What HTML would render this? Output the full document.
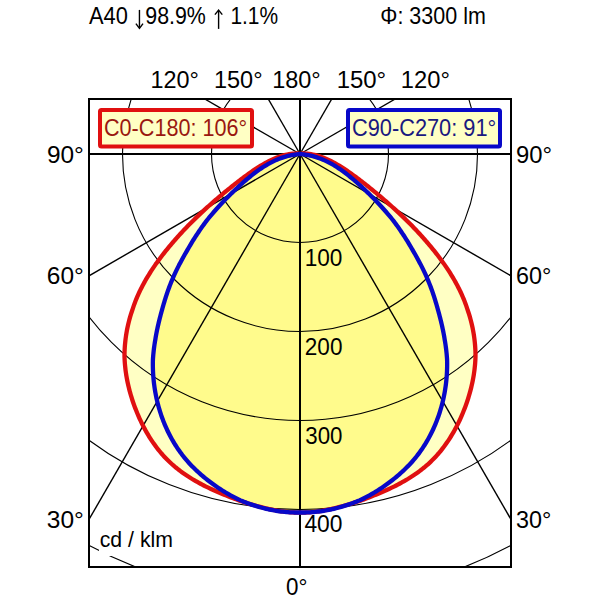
<!DOCTYPE html>
<html><head><meta charset="utf-8"><style>
html,body{margin:0;padding:0;background:#fff;}
svg{display:block;}
text{font-family:"Liberation Sans",sans-serif;}
</style></head><body>
<svg width="600" height="600" viewBox="0 0 600 600">
<defs><clipPath id="fr"><rect x="89" y="99" width="422" height="468"/></clipPath></defs>
<rect x="0" y="0" width="600" height="600" fill="#fff"/>
<path d="M300.00,154.00 L298.09,153.46 L296.24,153.48 L294.40,153.57 L292.58,153.72 L290.78,153.93 L288.99,154.20 L287.22,154.53 L285.47,154.91 L283.73,155.34 L282.01,155.82 L280.30,156.35 L278.61,156.93 L276.93,157.55 L275.27,158.21 L273.61,158.91 L271.97,159.65 L270.34,160.42 L268.73,161.22 L267.12,162.06 L265.53,162.92 L263.94,163.81 L262.37,164.73 L260.80,165.66 L259.24,166.62 L257.70,167.60 L256.16,168.59 L254.63,169.61 L253.11,170.64 L251.59,171.68 L250.08,172.74 L248.58,173.81 L247.09,174.89 L245.60,175.98 L244.12,177.07 L242.64,178.18 L241.17,179.29 L239.71,180.41 L238.25,181.53 L236.79,182.65 L235.34,183.78 L233.90,184.91 L232.46,186.05 L231.02,187.19 L229.59,188.33 L228.17,189.48 L226.75,190.63 L225.33,191.79 L223.92,192.95 L222.51,194.11 L221.11,195.28 L219.72,196.45 L218.33,197.63 L216.94,198.81 L215.56,200.00 L214.19,201.19 L212.81,202.39 L211.45,203.59 L210.09,204.79 L208.73,206.00 L207.38,207.22 L206.04,208.44 L204.70,209.67 L203.36,210.90 L202.03,212.13 L200.70,213.38 L199.38,214.62 L198.07,215.88 L196.76,217.13 L195.45,218.40 L194.15,219.67 L192.86,220.94 L191.57,222.22 L190.28,223.51 L189.00,224.80 L187.73,226.10 L186.46,227.40 L185.20,228.71 L183.94,230.03 L182.70,231.36 L181.46,232.70 L180.23,234.05 L179.01,235.40 L177.79,236.76 L176.57,238.13 L175.36,239.50 L174.16,240.88 L172.96,242.26 L171.77,243.66 L170.59,245.05 L169.41,246.46 L168.24,247.87 L167.08,249.29 L165.93,250.72 L164.78,252.15 L163.65,253.59 L162.52,255.04 L161.41,256.49 L160.30,257.95 L159.21,259.42 L158.13,260.89 L157.06,262.38 L156.00,263.87 L154.95,265.37 L153.92,266.87 L152.90,268.39 L151.89,269.91 L150.90,271.44 L149.92,272.97 L148.95,274.52 L148.00,276.07 L147.07,277.63 L146.15,279.20 L145.25,280.77 L144.36,282.35 L143.49,283.94 L142.64,285.54 L141.80,287.15 L140.98,288.76 L140.18,290.39 L139.40,292.02 L138.64,293.66 L137.90,295.31 L137.18,296.96 L136.48,298.63 L135.80,300.31 L135.14,301.99 L134.50,303.68 L133.89,305.38 L133.30,307.09 L132.73,308.81 L132.17,310.53 L131.59,312.25 L131.04,313.97 L130.50,315.71 L129.99,317.45 L129.50,319.19 L129.03,320.95 L128.59,322.70 L128.17,324.47 L127.77,326.24 L127.39,328.02 L127.03,329.80 L126.70,331.59 L126.40,333.38 L126.11,335.17 L125.85,336.97 L125.61,338.78 L125.40,340.58 L125.20,342.39 L125.02,344.20 L124.87,346.01 L124.75,347.83 L124.65,349.65 L124.57,351.47 L124.52,353.29 L124.49,355.11 L124.52,356.93 L124.58,358.75 L124.68,360.57 L124.79,362.39 L124.93,364.21 L125.10,366.02 L125.29,367.84 L125.50,369.65 L125.73,371.46 L125.99,373.27 L126.26,375.07 L126.56,376.88 L126.88,378.68 L127.23,380.47 L127.59,382.27 L127.98,384.06 L128.38,385.84 L128.81,387.62 L129.26,389.40 L129.72,391.17 L130.21,392.94 L130.71,394.71 L131.24,396.47 L131.78,398.22 L132.34,399.97 L132.92,401.71 L133.52,403.45 L134.14,405.18 L134.77,406.90 L135.42,408.62 L136.09,410.33 L136.77,412.04 L137.48,413.73 L138.19,415.42 L138.93,417.11 L139.68,418.78 L140.45,420.45 L141.24,422.10 L142.04,423.75 L142.86,425.38 L143.70,427.01 L144.56,428.62 L145.43,430.23 L146.33,431.82 L147.24,433.40 L148.17,434.96 L149.11,436.52 L150.08,438.06 L151.06,439.59 L152.06,441.10 L153.09,442.60 L154.13,444.08 L155.18,445.55 L156.26,447.00 L157.36,448.44 L158.47,449.86 L159.61,451.26 L160.76,452.65 L161.94,454.01 L163.13,455.36 L164.34,456.69 L165.58,458.00 L166.83,459.30 L168.10,460.57 L169.40,461.82 L170.71,463.05 L172.04,464.26 L173.40,465.45 L174.77,466.62 L176.17,467.76 L177.58,468.89 L179.01,470.00 L180.45,471.10 L181.90,472.18 L183.38,473.24 L184.87,474.28 L186.37,475.30 L187.90,476.31 L189.43,477.30 L190.98,478.27 L192.54,479.23 L194.12,480.16 L195.71,481.09 L197.31,481.99 L198.92,482.89 L200.55,483.76 L202.18,484.63 L203.82,485.47 L205.47,486.31 L207.13,487.13 L208.80,487.93 L210.48,488.73 L212.16,489.51 L213.85,490.28 L215.54,491.04 L217.24,491.79 L218.94,492.52 L220.65,493.25 L222.36,493.96 L224.08,494.67 L225.79,495.37 L227.51,496.05 L229.23,496.73 L230.95,497.40 L232.67,498.06 L234.39,498.71 L236.10,499.36 L237.82,500.00 L239.54,500.62 L241.27,501.20 L243.00,501.78 L244.73,502.35 L246.46,502.90 L248.19,503.45 L249.92,503.99 L251.65,504.51 L253.38,505.03 L255.12,505.53 L256.85,506.01 L258.59,506.49 L260.33,506.95 L262.08,507.39 L263.82,507.82 L265.57,508.24 L267.32,508.66 L269.08,509.06 L270.84,509.44 L272.60,509.81 L274.37,510.15 L276.15,510.47 L277.93,510.78 L279.72,511.06 L281.52,511.32 L283.33,511.56 L285.14,511.77 L286.96,511.96 L288.79,512.13 L290.63,512.28 L292.47,512.39 L294.33,512.49 L296.20,512.55 L298.07,512.60 L300.00,512.50 L301.93,512.60 L303.80,512.55 L305.67,512.49 L307.53,512.39 L309.37,512.28 L311.21,512.13 L313.04,511.96 L314.86,511.77 L316.67,511.56 L318.48,511.32 L320.28,511.06 L322.07,510.78 L323.85,510.47 L325.63,510.15 L327.40,509.81 L329.16,509.44 L330.92,509.06 L332.68,508.66 L334.43,508.24 L336.18,507.82 L337.92,507.39 L339.67,506.95 L341.41,506.49 L343.15,506.01 L344.88,505.53 L346.62,505.03 L348.35,504.51 L350.08,503.99 L351.81,503.45 L353.54,502.90 L355.27,502.35 L357.00,501.78 L358.73,501.20 L360.46,500.62 L362.18,500.00 L363.90,499.36 L365.61,498.71 L367.33,498.06 L369.05,497.40 L370.77,496.73 L372.49,496.05 L374.21,495.37 L375.92,494.67 L377.64,493.96 L379.35,493.25 L381.06,492.52 L382.76,491.79 L384.46,491.04 L386.15,490.28 L387.84,489.51 L389.52,488.73 L391.20,487.93 L392.87,487.13 L394.53,486.31 L396.18,485.47 L397.82,484.63 L399.45,483.76 L401.08,482.89 L402.69,481.99 L404.29,481.09 L405.88,480.16 L407.46,479.23 L409.02,478.27 L410.57,477.30 L412.10,476.31 L413.63,475.30 L415.13,474.28 L416.62,473.24 L418.10,472.18 L419.55,471.10 L420.99,470.00 L422.42,468.89 L423.83,467.76 L425.23,466.62 L426.60,465.45 L427.96,464.26 L429.29,463.05 L430.60,461.82 L431.90,460.57 L433.17,459.30 L434.42,458.00 L435.66,456.69 L436.87,455.36 L438.06,454.01 L439.24,452.65 L440.39,451.26 L441.53,449.86 L442.64,448.44 L443.74,447.00 L444.82,445.55 L445.87,444.08 L446.91,442.60 L447.94,441.10 L448.94,439.59 L449.92,438.06 L450.89,436.52 L451.83,434.96 L452.76,433.40 L453.67,431.82 L454.57,430.23 L455.44,428.62 L456.30,427.01 L457.14,425.38 L457.96,423.75 L458.76,422.10 L459.55,420.45 L460.32,418.78 L461.07,417.11 L461.81,415.42 L462.52,413.73 L463.23,412.04 L463.91,410.33 L464.58,408.62 L465.23,406.90 L465.86,405.18 L466.48,403.45 L467.08,401.71 L467.66,399.97 L468.22,398.22 L468.76,396.47 L469.29,394.71 L469.79,392.94 L470.28,391.17 L470.74,389.40 L471.19,387.62 L471.62,385.84 L472.02,384.06 L472.41,382.27 L472.77,380.47 L473.12,378.68 L473.44,376.88 L473.74,375.07 L474.01,373.27 L474.27,371.46 L474.50,369.65 L474.71,367.84 L474.90,366.02 L475.07,364.21 L475.21,362.39 L475.32,360.57 L475.42,358.75 L475.48,356.93 L475.51,355.11 L475.48,353.29 L475.43,351.47 L475.35,349.65 L475.25,347.83 L475.13,346.01 L474.98,344.20 L474.80,342.39 L474.60,340.58 L474.39,338.78 L474.15,336.97 L473.89,335.17 L473.60,333.38 L473.30,331.59 L472.97,329.80 L472.61,328.02 L472.23,326.24 L471.83,324.47 L471.41,322.70 L470.97,320.95 L470.50,319.19 L470.01,317.45 L469.50,315.71 L468.96,313.97 L468.41,312.25 L467.83,310.53 L467.27,308.81 L466.70,307.09 L466.11,305.38 L465.50,303.68 L464.86,301.99 L464.20,300.31 L463.52,298.63 L462.82,296.96 L462.10,295.31 L461.36,293.66 L460.60,292.02 L459.82,290.39 L459.02,288.76 L458.20,287.15 L457.36,285.54 L456.51,283.94 L455.64,282.35 L454.75,280.77 L453.85,279.20 L452.93,277.63 L452.00,276.07 L451.05,274.52 L450.08,272.97 L449.10,271.44 L448.11,269.91 L447.10,268.39 L446.08,266.87 L445.05,265.37 L444.00,263.87 L442.94,262.38 L441.87,260.89 L440.79,259.42 L439.70,257.95 L438.59,256.49 L437.48,255.04 L436.35,253.59 L435.22,252.15 L434.07,250.72 L432.92,249.29 L431.76,247.87 L430.59,246.46 L429.41,245.05 L428.23,243.66 L427.04,242.26 L425.84,240.88 L424.64,239.50 L423.43,238.13 L422.21,236.76 L420.99,235.40 L419.77,234.05 L418.54,232.70 L417.30,231.36 L416.06,230.03 L414.80,228.71 L413.54,227.40 L412.27,226.10 L411.00,224.80 L409.72,223.51 L408.43,222.22 L407.14,220.94 L405.85,219.67 L404.55,218.40 L403.24,217.13 L401.93,215.88 L400.62,214.62 L399.30,213.38 L397.97,212.13 L396.64,210.90 L395.30,209.67 L393.96,208.44 L392.62,207.22 L391.27,206.00 L389.91,204.79 L388.55,203.59 L387.19,202.39 L385.81,201.19 L384.44,200.00 L383.06,198.81 L381.67,197.63 L380.28,196.45 L378.89,195.28 L377.49,194.11 L376.08,192.95 L374.67,191.79 L373.25,190.63 L371.83,189.48 L370.41,188.33 L368.98,187.19 L367.54,186.05 L366.10,184.91 L364.66,183.78 L363.21,182.65 L361.75,181.53 L360.29,180.41 L358.83,179.29 L357.36,178.18 L355.88,177.07 L354.40,175.98 L352.91,174.89 L351.42,173.81 L349.92,172.74 L348.41,171.68 L346.89,170.64 L345.37,169.61 L343.84,168.59 L342.30,167.60 L340.76,166.62 L339.20,165.66 L337.63,164.73 L336.06,163.81 L334.47,162.92 L332.88,162.06 L331.27,161.22 L329.66,160.42 L328.03,159.65 L326.39,158.91 L324.73,158.21 L323.07,157.55 L321.39,156.93 L319.70,156.35 L317.99,155.82 L316.27,155.34 L314.53,154.91 L312.78,154.53 L311.01,154.20 L309.22,153.93 L307.42,153.72 L305.60,153.57 L303.76,153.48 L301.91,153.46 L300.00,154.00 Z" fill="#FFFFC4" stroke="none"/>
<path d="M300.00,154.00 L298.34,154.19 L296.59,154.38 L294.85,154.61 L293.14,154.88 L291.44,155.20 L289.76,155.55 L288.10,155.95 L286.46,156.38 L284.83,156.85 L283.22,157.35 L281.63,157.90 L280.05,158.47 L278.49,159.08 L276.94,159.72 L275.40,160.39 L273.89,161.09 L272.38,161.82 L270.89,162.58 L269.41,163.37 L267.95,164.18 L266.50,165.02 L265.06,165.88 L263.63,166.77 L262.22,167.68 L260.82,168.61 L259.43,169.56 L258.05,170.53 L256.68,171.52 L255.32,172.53 L253.97,173.56 L252.63,174.60 L251.30,175.65 L249.98,176.72 L248.66,177.80 L247.36,178.90 L246.06,180.00 L244.77,181.12 L243.49,182.24 L242.22,183.37 L240.95,184.51 L239.69,185.65 L238.43,186.80 L237.18,187.96 L235.94,189.12 L234.70,190.29 L233.47,191.46 L232.25,192.63 L231.03,193.82 L229.82,195.01 L228.61,196.20 L227.42,197.40 L226.23,198.60 L225.04,199.82 L223.87,201.03 L222.70,202.26 L221.54,203.49 L220.38,204.72 L219.23,205.96 L218.09,207.21 L216.96,208.47 L215.84,209.73 L214.72,211.00 L213.61,212.27 L212.51,213.55 L211.42,214.84 L210.33,216.14 L209.26,217.44 L208.19,218.75 L207.13,220.06 L206.11,221.41 L205.09,222.76 L204.09,224.12 L203.09,225.49 L202.11,226.86 L201.13,228.24 L200.16,229.63 L199.21,231.03 L198.26,232.43 L197.32,233.83 L196.39,235.24 L195.47,236.66 L194.56,238.09 L193.65,239.52 L192.76,240.95 L191.88,242.39 L191.00,243.84 L190.14,245.29 L189.28,246.74 L188.44,248.20 L187.60,249.67 L186.76,251.13 L185.90,252.58 L185.06,254.04 L184.22,255.50 L183.39,256.97 L182.58,258.44 L181.77,259.92 L180.97,261.40 L180.19,262.88 L179.41,264.37 L178.65,265.87 L177.89,267.37 L177.15,268.88 L176.42,270.39 L175.70,271.91 L174.99,273.43 L174.29,274.96 L173.61,276.49 L172.93,278.03 L172.27,279.57 L171.62,281.12 L170.99,282.68 L170.37,284.24 L169.76,285.80 L169.16,287.38 L168.57,288.95 L168.00,290.54 L167.44,292.13 L166.90,293.72 L166.36,295.32 L165.84,296.93 L165.33,298.53 L164.83,300.15 L164.34,301.77 L163.86,303.39 L163.39,305.01 L162.92,306.64 L162.47,308.27 L162.03,309.90 L161.57,311.53 L161.13,313.17 L160.68,314.80 L160.25,316.44 L159.83,318.08 L159.42,319.72 L159.01,321.36 L158.62,323.00 L158.23,324.65 L157.86,326.29 L157.50,327.94 L157.15,329.60 L156.81,331.25 L156.49,332.91 L156.17,334.56 L155.87,336.22 L155.59,337.89 L155.32,339.55 L155.04,341.21 L154.77,342.88 L154.51,344.54 L154.27,346.21 L154.04,347.89 L153.83,349.56 L153.64,351.24 L153.46,352.92 L153.30,354.60 L153.16,356.29 L153.03,357.98 L152.92,359.67 L152.88,361.37 L152.86,363.06 L152.85,364.76 L152.87,366.46 L152.90,368.15 L152.95,369.85 L153.02,371.55 L153.11,373.24 L153.21,374.94 L153.33,376.64 L153.47,378.33 L153.63,380.02 L153.81,381.72 L154.00,383.40 L154.21,385.09 L154.44,386.78 L154.69,388.46 L154.96,390.14 L155.24,391.82 L155.54,393.49 L155.86,395.16 L156.20,396.82 L156.55,398.49 L156.92,400.14 L157.32,401.80 L157.72,403.44 L158.15,405.09 L158.60,406.73 L159.06,408.36 L159.54,409.98 L160.04,411.61 L160.55,413.22 L161.09,414.83 L161.64,416.43 L162.21,418.02 L162.80,419.61 L163.40,421.19 L164.03,422.76 L164.67,424.33 L165.33,425.88 L166.01,427.43 L166.70,428.97 L167.41,430.50 L168.15,432.02 L168.90,433.53 L169.66,435.04 L170.45,436.53 L171.25,438.01 L172.07,439.48 L172.91,440.94 L173.77,442.40 L174.64,443.83 L175.54,445.26 L176.45,446.68 L177.37,448.09 L178.32,449.48 L179.29,450.86 L180.27,452.23 L181.27,453.58 L182.29,454.93 L183.32,456.26 L184.38,457.57 L185.45,458.87 L186.54,460.16 L187.65,461.44 L188.78,462.70 L189.92,463.94 L191.08,465.17 L192.26,466.39 L193.46,467.59 L194.67,468.78 L195.90,469.95 L197.13,471.12 L198.38,472.27 L199.64,473.41 L200.91,474.54 L202.20,475.65 L203.50,476.75 L204.81,477.83 L206.14,478.90 L207.47,479.96 L208.82,481.00 L210.17,482.03 L211.53,483.05 L212.91,484.06 L214.29,485.05 L215.68,486.03 L217.07,486.99 L218.48,487.94 L219.89,488.88 L221.32,489.80 L222.75,490.71 L224.19,491.61 L225.64,492.49 L227.09,493.35 L228.56,494.20 L230.03,495.03 L231.52,495.85 L233.01,496.65 L234.51,497.44 L236.02,498.20 L237.53,498.95 L239.06,499.68 L240.60,500.39 L242.16,501.05 L243.72,501.69 L245.30,502.31 L246.88,502.91 L248.46,503.50 L250.05,504.07 L251.65,504.62 L253.26,505.15 L254.87,505.67 L256.48,506.16 L258.10,506.64 L259.73,507.10 L261.36,507.54 L262.99,507.96 L264.63,508.38 L266.27,508.79 L267.92,509.17 L269.57,509.53 L271.23,509.88 L272.89,510.20 L274.56,510.50 L276.23,510.78 L277.90,511.05 L279.58,511.29 L281.27,511.51 L282.96,511.70 L284.65,511.88 L286.34,512.04 L288.04,512.17 L289.74,512.28 L291.45,512.37 L293.16,512.44 L294.87,512.49 L296.58,512.51 L298.30,512.51 L300.00,512.50 L301.70,512.51 L303.42,512.51 L305.13,512.49 L306.84,512.44 L308.55,512.37 L310.26,512.28 L311.96,512.17 L313.66,512.04 L315.35,511.88 L317.04,511.70 L318.73,511.51 L320.42,511.29 L322.10,511.05 L323.77,510.78 L325.44,510.50 L327.11,510.20 L328.77,509.88 L330.43,509.53 L332.08,509.17 L333.73,508.79 L335.37,508.38 L337.01,507.96 L338.64,507.54 L340.27,507.10 L341.90,506.64 L343.52,506.16 L345.13,505.67 L346.74,505.15 L348.35,504.62 L349.95,504.07 L351.54,503.50 L353.12,502.91 L354.70,502.31 L356.28,501.69 L357.84,501.05 L359.40,500.39 L360.94,499.68 L362.47,498.95 L363.98,498.20 L365.49,497.44 L366.99,496.65 L368.48,495.85 L369.97,495.03 L371.44,494.20 L372.91,493.35 L374.36,492.49 L375.81,491.61 L377.25,490.71 L378.68,489.80 L380.11,488.88 L381.52,487.94 L382.93,486.99 L384.32,486.03 L385.71,485.05 L387.09,484.06 L388.47,483.05 L389.83,482.03 L391.18,481.00 L392.53,479.96 L393.86,478.90 L395.19,477.83 L396.50,476.75 L397.80,475.65 L399.09,474.54 L400.36,473.41 L401.62,472.27 L402.87,471.12 L404.10,469.95 L405.33,468.78 L406.54,467.59 L407.74,466.39 L408.92,465.17 L410.08,463.94 L411.22,462.70 L412.35,461.44 L413.46,460.16 L414.55,458.87 L415.62,457.57 L416.68,456.26 L417.71,454.93 L418.73,453.58 L419.73,452.23 L420.71,450.86 L421.68,449.48 L422.63,448.09 L423.55,446.68 L424.46,445.26 L425.36,443.83 L426.23,442.40 L427.09,440.94 L427.93,439.48 L428.75,438.01 L429.55,436.53 L430.34,435.04 L431.10,433.53 L431.85,432.02 L432.59,430.50 L433.30,428.97 L433.99,427.43 L434.67,425.88 L435.33,424.33 L435.97,422.76 L436.60,421.19 L437.20,419.61 L437.79,418.02 L438.36,416.43 L438.91,414.83 L439.45,413.22 L439.96,411.61 L440.46,409.98 L440.94,408.36 L441.40,406.73 L441.85,405.09 L442.28,403.44 L442.68,401.80 L443.08,400.14 L443.45,398.49 L443.80,396.82 L444.14,395.16 L444.46,393.49 L444.76,391.82 L445.04,390.14 L445.31,388.46 L445.56,386.78 L445.79,385.09 L446.00,383.40 L446.19,381.72 L446.37,380.02 L446.53,378.33 L446.67,376.64 L446.79,374.94 L446.89,373.24 L446.98,371.55 L447.05,369.85 L447.10,368.15 L447.13,366.46 L447.15,364.76 L447.14,363.06 L447.12,361.37 L447.08,359.67 L446.97,357.98 L446.84,356.29 L446.70,354.60 L446.54,352.92 L446.36,351.24 L446.17,349.56 L445.96,347.89 L445.73,346.21 L445.49,344.54 L445.23,342.88 L444.96,341.21 L444.68,339.55 L444.41,337.89 L444.13,336.22 L443.83,334.56 L443.51,332.91 L443.19,331.25 L442.85,329.60 L442.50,327.94 L442.14,326.29 L441.77,324.65 L441.38,323.00 L440.99,321.36 L440.58,319.72 L440.17,318.08 L439.75,316.44 L439.32,314.80 L438.87,313.17 L438.43,311.53 L437.97,309.90 L437.53,308.27 L437.08,306.64 L436.61,305.01 L436.14,303.39 L435.66,301.77 L435.17,300.15 L434.67,298.53 L434.16,296.93 L433.64,295.32 L433.10,293.72 L432.56,292.13 L432.00,290.54 L431.43,288.95 L430.84,287.38 L430.24,285.80 L429.63,284.24 L429.01,282.68 L428.38,281.12 L427.73,279.57 L427.07,278.03 L426.39,276.49 L425.71,274.96 L425.01,273.43 L424.30,271.91 L423.58,270.39 L422.85,268.88 L422.11,267.37 L421.35,265.87 L420.59,264.37 L419.81,262.88 L419.03,261.40 L418.23,259.92 L417.42,258.44 L416.61,256.97 L415.78,255.50 L414.94,254.04 L414.10,252.58 L413.24,251.13 L412.40,249.67 L411.56,248.20 L410.72,246.74 L409.86,245.29 L409.00,243.84 L408.12,242.39 L407.24,240.95 L406.35,239.52 L405.44,238.09 L404.53,236.66 L403.61,235.24 L402.68,233.83 L401.74,232.43 L400.79,231.03 L399.84,229.63 L398.87,228.24 L397.89,226.86 L396.91,225.49 L395.91,224.12 L394.91,222.76 L393.89,221.41 L392.87,220.06 L391.81,218.75 L390.74,217.44 L389.67,216.14 L388.58,214.84 L387.49,213.55 L386.39,212.27 L385.28,211.00 L384.16,209.73 L383.04,208.47 L381.91,207.21 L380.77,205.96 L379.62,204.72 L378.46,203.49 L377.30,202.26 L376.13,201.03 L374.96,199.82 L373.77,198.60 L372.58,197.40 L371.39,196.20 L370.18,195.01 L368.97,193.82 L367.75,192.63 L366.53,191.46 L365.30,190.29 L364.06,189.12 L362.82,187.96 L361.57,186.80 L360.31,185.65 L359.05,184.51 L357.78,183.37 L356.51,182.24 L355.23,181.12 L353.94,180.00 L352.64,178.90 L351.34,177.80 L350.02,176.72 L348.70,175.65 L347.37,174.60 L346.03,173.56 L344.68,172.53 L343.32,171.52 L341.95,170.53 L340.57,169.56 L339.18,168.61 L337.78,167.68 L336.37,166.77 L334.94,165.88 L333.50,165.02 L332.05,164.18 L330.59,163.37 L329.11,162.58 L327.62,161.82 L326.11,161.09 L324.60,160.39 L323.06,159.72 L321.51,159.08 L319.95,158.47 L318.37,157.90 L316.78,157.35 L315.17,156.85 L313.54,156.38 L311.90,155.95 L310.24,155.55 L308.56,155.20 L306.86,154.88 L305.15,154.61 L303.41,154.38 L301.66,154.19 L300.00,154.00 Z" fill="#FFFB8C" stroke="none"/>
<g clip-path="url(#fr)" fill="none" stroke="#000">
<g stroke-width="1.1"><circle cx="300.0" cy="154.0" r="88.50"/><circle cx="300.0" cy="154.0" r="177.50"/><circle cx="300.0" cy="154.0" r="266.50"/><circle cx="300.0" cy="154.0" r="355.50"/><circle cx="300.0" cy="154.0" r="444.50"/></g>
<g stroke-width="1.4"><line x1="300.0" y1="154.0" x2="511.00" y2="519.46"/><line x1="300.0" y1="154.0" x2="511.00" y2="275.82"/><line x1="300.0" y1="154.0" x2="395.26" y2="99.00"/><line x1="300.0" y1="154.0" x2="331.75" y2="99.00"/><line x1="300.0" y1="154.0" x2="89.00" y2="519.46"/><line x1="300.0" y1="154.0" x2="89.00" y2="275.82"/><line x1="300.0" y1="154.0" x2="204.74" y2="99.00"/><line x1="300.0" y1="154.0" x2="268.25" y2="99.00"/></g>
<line x1="300.0" y1="99" x2="300.0" y2="567" stroke-width="2"/>
<line x1="89" y1="154.0" x2="511" y2="154.0" stroke-width="2"/>
</g>
<rect x="89" y="99" width="422" height="468" fill="none" stroke="#000" stroke-width="2"/>
<path d="M300.00,154.00 L298.09,153.46 L296.24,153.48 L294.40,153.57 L292.58,153.72 L290.78,153.93 L288.99,154.20 L287.22,154.53 L285.47,154.91 L283.73,155.34 L282.01,155.82 L280.30,156.35 L278.61,156.93 L276.93,157.55 L275.27,158.21 L273.61,158.91 L271.97,159.65 L270.34,160.42 L268.73,161.22 L267.12,162.06 L265.53,162.92 L263.94,163.81 L262.37,164.73 L260.80,165.66 L259.24,166.62 L257.70,167.60 L256.16,168.59 L254.63,169.61 L253.11,170.64 L251.59,171.68 L250.08,172.74 L248.58,173.81 L247.09,174.89 L245.60,175.98 L244.12,177.07 L242.64,178.18 L241.17,179.29 L239.71,180.41 L238.25,181.53 L236.79,182.65 L235.34,183.78 L233.90,184.91 L232.46,186.05 L231.02,187.19 L229.59,188.33 L228.17,189.48 L226.75,190.63 L225.33,191.79 L223.92,192.95 L222.51,194.11 L221.11,195.28 L219.72,196.45 L218.33,197.63 L216.94,198.81 L215.56,200.00 L214.19,201.19 L212.81,202.39 L211.45,203.59 L210.09,204.79 L208.73,206.00 L207.38,207.22 L206.04,208.44 L204.70,209.67 L203.36,210.90 L202.03,212.13 L200.70,213.38 L199.38,214.62 L198.07,215.88 L196.76,217.13 L195.45,218.40 L194.15,219.67 L192.86,220.94 L191.57,222.22 L190.28,223.51 L189.00,224.80 L187.73,226.10 L186.46,227.40 L185.20,228.71 L183.94,230.03 L182.70,231.36 L181.46,232.70 L180.23,234.05 L179.01,235.40 L177.79,236.76 L176.57,238.13 L175.36,239.50 L174.16,240.88 L172.96,242.26 L171.77,243.66 L170.59,245.05 L169.41,246.46 L168.24,247.87 L167.08,249.29 L165.93,250.72 L164.78,252.15 L163.65,253.59 L162.52,255.04 L161.41,256.49 L160.30,257.95 L159.21,259.42 L158.13,260.89 L157.06,262.38 L156.00,263.87 L154.95,265.37 L153.92,266.87 L152.90,268.39 L151.89,269.91 L150.90,271.44 L149.92,272.97 L148.95,274.52 L148.00,276.07 L147.07,277.63 L146.15,279.20 L145.25,280.77 L144.36,282.35 L143.49,283.94 L142.64,285.54 L141.80,287.15 L140.98,288.76 L140.18,290.39 L139.40,292.02 L138.64,293.66 L137.90,295.31 L137.18,296.96 L136.48,298.63 L135.80,300.31 L135.14,301.99 L134.50,303.68 L133.89,305.38 L133.30,307.09 L132.73,308.81 L132.17,310.53 L131.59,312.25 L131.04,313.97 L130.50,315.71 L129.99,317.45 L129.50,319.19 L129.03,320.95 L128.59,322.70 L128.17,324.47 L127.77,326.24 L127.39,328.02 L127.03,329.80 L126.70,331.59 L126.40,333.38 L126.11,335.17 L125.85,336.97 L125.61,338.78 L125.40,340.58 L125.20,342.39 L125.02,344.20 L124.87,346.01 L124.75,347.83 L124.65,349.65 L124.57,351.47 L124.52,353.29 L124.49,355.11 L124.52,356.93 L124.58,358.75 L124.68,360.57 L124.79,362.39 L124.93,364.21 L125.10,366.02 L125.29,367.84 L125.50,369.65 L125.73,371.46 L125.99,373.27 L126.26,375.07 L126.56,376.88 L126.88,378.68 L127.23,380.47 L127.59,382.27 L127.98,384.06 L128.38,385.84 L128.81,387.62 L129.26,389.40 L129.72,391.17 L130.21,392.94 L130.71,394.71 L131.24,396.47 L131.78,398.22 L132.34,399.97 L132.92,401.71 L133.52,403.45 L134.14,405.18 L134.77,406.90 L135.42,408.62 L136.09,410.33 L136.77,412.04 L137.48,413.73 L138.19,415.42 L138.93,417.11 L139.68,418.78 L140.45,420.45 L141.24,422.10 L142.04,423.75 L142.86,425.38 L143.70,427.01 L144.56,428.62 L145.43,430.23 L146.33,431.82 L147.24,433.40 L148.17,434.96 L149.11,436.52 L150.08,438.06 L151.06,439.59 L152.06,441.10 L153.09,442.60 L154.13,444.08 L155.18,445.55 L156.26,447.00 L157.36,448.44 L158.47,449.86 L159.61,451.26 L160.76,452.65 L161.94,454.01 L163.13,455.36 L164.34,456.69 L165.58,458.00 L166.83,459.30 L168.10,460.57 L169.40,461.82 L170.71,463.05 L172.04,464.26 L173.40,465.45 L174.77,466.62 L176.17,467.76 L177.58,468.89 L179.01,470.00 L180.45,471.10 L181.90,472.18 L183.38,473.24 L184.87,474.28 L186.37,475.30 L187.90,476.31 L189.43,477.30 L190.98,478.27 L192.54,479.23 L194.12,480.16 L195.71,481.09 L197.31,481.99 L198.92,482.89 L200.55,483.76 L202.18,484.63 L203.82,485.47 L205.47,486.31 L207.13,487.13 L208.80,487.93 L210.48,488.73 L212.16,489.51 L213.85,490.28 L215.54,491.04 L217.24,491.79 L218.94,492.52 L220.65,493.25 L222.36,493.96 L224.08,494.67 L225.79,495.37 L227.51,496.05 L229.23,496.73 L230.95,497.40 L232.67,498.06 L234.39,498.71 L236.10,499.36 L237.82,500.00 L239.54,500.62 L241.27,501.20 L243.00,501.78 L244.73,502.35 L246.46,502.90 L248.19,503.45 L249.92,503.99 L251.65,504.51 L253.38,505.03 L255.12,505.53 L256.85,506.01 L258.59,506.49 L260.33,506.95 L262.08,507.39 L263.82,507.82 L265.57,508.24 L267.32,508.66 L269.08,509.06 L270.84,509.44 L272.60,509.81 L274.37,510.15 L276.15,510.47 L277.93,510.78 L279.72,511.06 L281.52,511.32 L283.33,511.56 L285.14,511.77 L286.96,511.96 L288.79,512.13 L290.63,512.28 L292.47,512.39 L294.33,512.49 L296.20,512.55 L298.07,512.60 L300.00,512.50 L301.93,512.60 L303.80,512.55 L305.67,512.49 L307.53,512.39 L309.37,512.28 L311.21,512.13 L313.04,511.96 L314.86,511.77 L316.67,511.56 L318.48,511.32 L320.28,511.06 L322.07,510.78 L323.85,510.47 L325.63,510.15 L327.40,509.81 L329.16,509.44 L330.92,509.06 L332.68,508.66 L334.43,508.24 L336.18,507.82 L337.92,507.39 L339.67,506.95 L341.41,506.49 L343.15,506.01 L344.88,505.53 L346.62,505.03 L348.35,504.51 L350.08,503.99 L351.81,503.45 L353.54,502.90 L355.27,502.35 L357.00,501.78 L358.73,501.20 L360.46,500.62 L362.18,500.00 L363.90,499.36 L365.61,498.71 L367.33,498.06 L369.05,497.40 L370.77,496.73 L372.49,496.05 L374.21,495.37 L375.92,494.67 L377.64,493.96 L379.35,493.25 L381.06,492.52 L382.76,491.79 L384.46,491.04 L386.15,490.28 L387.84,489.51 L389.52,488.73 L391.20,487.93 L392.87,487.13 L394.53,486.31 L396.18,485.47 L397.82,484.63 L399.45,483.76 L401.08,482.89 L402.69,481.99 L404.29,481.09 L405.88,480.16 L407.46,479.23 L409.02,478.27 L410.57,477.30 L412.10,476.31 L413.63,475.30 L415.13,474.28 L416.62,473.24 L418.10,472.18 L419.55,471.10 L420.99,470.00 L422.42,468.89 L423.83,467.76 L425.23,466.62 L426.60,465.45 L427.96,464.26 L429.29,463.05 L430.60,461.82 L431.90,460.57 L433.17,459.30 L434.42,458.00 L435.66,456.69 L436.87,455.36 L438.06,454.01 L439.24,452.65 L440.39,451.26 L441.53,449.86 L442.64,448.44 L443.74,447.00 L444.82,445.55 L445.87,444.08 L446.91,442.60 L447.94,441.10 L448.94,439.59 L449.92,438.06 L450.89,436.52 L451.83,434.96 L452.76,433.40 L453.67,431.82 L454.57,430.23 L455.44,428.62 L456.30,427.01 L457.14,425.38 L457.96,423.75 L458.76,422.10 L459.55,420.45 L460.32,418.78 L461.07,417.11 L461.81,415.42 L462.52,413.73 L463.23,412.04 L463.91,410.33 L464.58,408.62 L465.23,406.90 L465.86,405.18 L466.48,403.45 L467.08,401.71 L467.66,399.97 L468.22,398.22 L468.76,396.47 L469.29,394.71 L469.79,392.94 L470.28,391.17 L470.74,389.40 L471.19,387.62 L471.62,385.84 L472.02,384.06 L472.41,382.27 L472.77,380.47 L473.12,378.68 L473.44,376.88 L473.74,375.07 L474.01,373.27 L474.27,371.46 L474.50,369.65 L474.71,367.84 L474.90,366.02 L475.07,364.21 L475.21,362.39 L475.32,360.57 L475.42,358.75 L475.48,356.93 L475.51,355.11 L475.48,353.29 L475.43,351.47 L475.35,349.65 L475.25,347.83 L475.13,346.01 L474.98,344.20 L474.80,342.39 L474.60,340.58 L474.39,338.78 L474.15,336.97 L473.89,335.17 L473.60,333.38 L473.30,331.59 L472.97,329.80 L472.61,328.02 L472.23,326.24 L471.83,324.47 L471.41,322.70 L470.97,320.95 L470.50,319.19 L470.01,317.45 L469.50,315.71 L468.96,313.97 L468.41,312.25 L467.83,310.53 L467.27,308.81 L466.70,307.09 L466.11,305.38 L465.50,303.68 L464.86,301.99 L464.20,300.31 L463.52,298.63 L462.82,296.96 L462.10,295.31 L461.36,293.66 L460.60,292.02 L459.82,290.39 L459.02,288.76 L458.20,287.15 L457.36,285.54 L456.51,283.94 L455.64,282.35 L454.75,280.77 L453.85,279.20 L452.93,277.63 L452.00,276.07 L451.05,274.52 L450.08,272.97 L449.10,271.44 L448.11,269.91 L447.10,268.39 L446.08,266.87 L445.05,265.37 L444.00,263.87 L442.94,262.38 L441.87,260.89 L440.79,259.42 L439.70,257.95 L438.59,256.49 L437.48,255.04 L436.35,253.59 L435.22,252.15 L434.07,250.72 L432.92,249.29 L431.76,247.87 L430.59,246.46 L429.41,245.05 L428.23,243.66 L427.04,242.26 L425.84,240.88 L424.64,239.50 L423.43,238.13 L422.21,236.76 L420.99,235.40 L419.77,234.05 L418.54,232.70 L417.30,231.36 L416.06,230.03 L414.80,228.71 L413.54,227.40 L412.27,226.10 L411.00,224.80 L409.72,223.51 L408.43,222.22 L407.14,220.94 L405.85,219.67 L404.55,218.40 L403.24,217.13 L401.93,215.88 L400.62,214.62 L399.30,213.38 L397.97,212.13 L396.64,210.90 L395.30,209.67 L393.96,208.44 L392.62,207.22 L391.27,206.00 L389.91,204.79 L388.55,203.59 L387.19,202.39 L385.81,201.19 L384.44,200.00 L383.06,198.81 L381.67,197.63 L380.28,196.45 L378.89,195.28 L377.49,194.11 L376.08,192.95 L374.67,191.79 L373.25,190.63 L371.83,189.48 L370.41,188.33 L368.98,187.19 L367.54,186.05 L366.10,184.91 L364.66,183.78 L363.21,182.65 L361.75,181.53 L360.29,180.41 L358.83,179.29 L357.36,178.18 L355.88,177.07 L354.40,175.98 L352.91,174.89 L351.42,173.81 L349.92,172.74 L348.41,171.68 L346.89,170.64 L345.37,169.61 L343.84,168.59 L342.30,167.60 L340.76,166.62 L339.20,165.66 L337.63,164.73 L336.06,163.81 L334.47,162.92 L332.88,162.06 L331.27,161.22 L329.66,160.42 L328.03,159.65 L326.39,158.91 L324.73,158.21 L323.07,157.55 L321.39,156.93 L319.70,156.35 L317.99,155.82 L316.27,155.34 L314.53,154.91 L312.78,154.53 L311.01,154.20 L309.22,153.93 L307.42,153.72 L305.60,153.57 L303.76,153.48 L301.91,153.46 L300.00,154.00 Z" fill="none" stroke="#E01010" stroke-width="4.3" stroke-linejoin="round"/>
<path d="M300.00,154.00 L298.34,154.19 L296.59,154.38 L294.85,154.61 L293.14,154.88 L291.44,155.20 L289.76,155.55 L288.10,155.95 L286.46,156.38 L284.83,156.85 L283.22,157.35 L281.63,157.90 L280.05,158.47 L278.49,159.08 L276.94,159.72 L275.40,160.39 L273.89,161.09 L272.38,161.82 L270.89,162.58 L269.41,163.37 L267.95,164.18 L266.50,165.02 L265.06,165.88 L263.63,166.77 L262.22,167.68 L260.82,168.61 L259.43,169.56 L258.05,170.53 L256.68,171.52 L255.32,172.53 L253.97,173.56 L252.63,174.60 L251.30,175.65 L249.98,176.72 L248.66,177.80 L247.36,178.90 L246.06,180.00 L244.77,181.12 L243.49,182.24 L242.22,183.37 L240.95,184.51 L239.69,185.65 L238.43,186.80 L237.18,187.96 L235.94,189.12 L234.70,190.29 L233.47,191.46 L232.25,192.63 L231.03,193.82 L229.82,195.01 L228.61,196.20 L227.42,197.40 L226.23,198.60 L225.04,199.82 L223.87,201.03 L222.70,202.26 L221.54,203.49 L220.38,204.72 L219.23,205.96 L218.09,207.21 L216.96,208.47 L215.84,209.73 L214.72,211.00 L213.61,212.27 L212.51,213.55 L211.42,214.84 L210.33,216.14 L209.26,217.44 L208.19,218.75 L207.13,220.06 L206.11,221.41 L205.09,222.76 L204.09,224.12 L203.09,225.49 L202.11,226.86 L201.13,228.24 L200.16,229.63 L199.21,231.03 L198.26,232.43 L197.32,233.83 L196.39,235.24 L195.47,236.66 L194.56,238.09 L193.65,239.52 L192.76,240.95 L191.88,242.39 L191.00,243.84 L190.14,245.29 L189.28,246.74 L188.44,248.20 L187.60,249.67 L186.76,251.13 L185.90,252.58 L185.06,254.04 L184.22,255.50 L183.39,256.97 L182.58,258.44 L181.77,259.92 L180.97,261.40 L180.19,262.88 L179.41,264.37 L178.65,265.87 L177.89,267.37 L177.15,268.88 L176.42,270.39 L175.70,271.91 L174.99,273.43 L174.29,274.96 L173.61,276.49 L172.93,278.03 L172.27,279.57 L171.62,281.12 L170.99,282.68 L170.37,284.24 L169.76,285.80 L169.16,287.38 L168.57,288.95 L168.00,290.54 L167.44,292.13 L166.90,293.72 L166.36,295.32 L165.84,296.93 L165.33,298.53 L164.83,300.15 L164.34,301.77 L163.86,303.39 L163.39,305.01 L162.92,306.64 L162.47,308.27 L162.03,309.90 L161.57,311.53 L161.13,313.17 L160.68,314.80 L160.25,316.44 L159.83,318.08 L159.42,319.72 L159.01,321.36 L158.62,323.00 L158.23,324.65 L157.86,326.29 L157.50,327.94 L157.15,329.60 L156.81,331.25 L156.49,332.91 L156.17,334.56 L155.87,336.22 L155.59,337.89 L155.32,339.55 L155.04,341.21 L154.77,342.88 L154.51,344.54 L154.27,346.21 L154.04,347.89 L153.83,349.56 L153.64,351.24 L153.46,352.92 L153.30,354.60 L153.16,356.29 L153.03,357.98 L152.92,359.67 L152.88,361.37 L152.86,363.06 L152.85,364.76 L152.87,366.46 L152.90,368.15 L152.95,369.85 L153.02,371.55 L153.11,373.24 L153.21,374.94 L153.33,376.64 L153.47,378.33 L153.63,380.02 L153.81,381.72 L154.00,383.40 L154.21,385.09 L154.44,386.78 L154.69,388.46 L154.96,390.14 L155.24,391.82 L155.54,393.49 L155.86,395.16 L156.20,396.82 L156.55,398.49 L156.92,400.14 L157.32,401.80 L157.72,403.44 L158.15,405.09 L158.60,406.73 L159.06,408.36 L159.54,409.98 L160.04,411.61 L160.55,413.22 L161.09,414.83 L161.64,416.43 L162.21,418.02 L162.80,419.61 L163.40,421.19 L164.03,422.76 L164.67,424.33 L165.33,425.88 L166.01,427.43 L166.70,428.97 L167.41,430.50 L168.15,432.02 L168.90,433.53 L169.66,435.04 L170.45,436.53 L171.25,438.01 L172.07,439.48 L172.91,440.94 L173.77,442.40 L174.64,443.83 L175.54,445.26 L176.45,446.68 L177.37,448.09 L178.32,449.48 L179.29,450.86 L180.27,452.23 L181.27,453.58 L182.29,454.93 L183.32,456.26 L184.38,457.57 L185.45,458.87 L186.54,460.16 L187.65,461.44 L188.78,462.70 L189.92,463.94 L191.08,465.17 L192.26,466.39 L193.46,467.59 L194.67,468.78 L195.90,469.95 L197.13,471.12 L198.38,472.27 L199.64,473.41 L200.91,474.54 L202.20,475.65 L203.50,476.75 L204.81,477.83 L206.14,478.90 L207.47,479.96 L208.82,481.00 L210.17,482.03 L211.53,483.05 L212.91,484.06 L214.29,485.05 L215.68,486.03 L217.07,486.99 L218.48,487.94 L219.89,488.88 L221.32,489.80 L222.75,490.71 L224.19,491.61 L225.64,492.49 L227.09,493.35 L228.56,494.20 L230.03,495.03 L231.52,495.85 L233.01,496.65 L234.51,497.44 L236.02,498.20 L237.53,498.95 L239.06,499.68 L240.60,500.39 L242.16,501.05 L243.72,501.69 L245.30,502.31 L246.88,502.91 L248.46,503.50 L250.05,504.07 L251.65,504.62 L253.26,505.15 L254.87,505.67 L256.48,506.16 L258.10,506.64 L259.73,507.10 L261.36,507.54 L262.99,507.96 L264.63,508.38 L266.27,508.79 L267.92,509.17 L269.57,509.53 L271.23,509.88 L272.89,510.20 L274.56,510.50 L276.23,510.78 L277.90,511.05 L279.58,511.29 L281.27,511.51 L282.96,511.70 L284.65,511.88 L286.34,512.04 L288.04,512.17 L289.74,512.28 L291.45,512.37 L293.16,512.44 L294.87,512.49 L296.58,512.51 L298.30,512.51 L300.00,512.50 L301.70,512.51 L303.42,512.51 L305.13,512.49 L306.84,512.44 L308.55,512.37 L310.26,512.28 L311.96,512.17 L313.66,512.04 L315.35,511.88 L317.04,511.70 L318.73,511.51 L320.42,511.29 L322.10,511.05 L323.77,510.78 L325.44,510.50 L327.11,510.20 L328.77,509.88 L330.43,509.53 L332.08,509.17 L333.73,508.79 L335.37,508.38 L337.01,507.96 L338.64,507.54 L340.27,507.10 L341.90,506.64 L343.52,506.16 L345.13,505.67 L346.74,505.15 L348.35,504.62 L349.95,504.07 L351.54,503.50 L353.12,502.91 L354.70,502.31 L356.28,501.69 L357.84,501.05 L359.40,500.39 L360.94,499.68 L362.47,498.95 L363.98,498.20 L365.49,497.44 L366.99,496.65 L368.48,495.85 L369.97,495.03 L371.44,494.20 L372.91,493.35 L374.36,492.49 L375.81,491.61 L377.25,490.71 L378.68,489.80 L380.11,488.88 L381.52,487.94 L382.93,486.99 L384.32,486.03 L385.71,485.05 L387.09,484.06 L388.47,483.05 L389.83,482.03 L391.18,481.00 L392.53,479.96 L393.86,478.90 L395.19,477.83 L396.50,476.75 L397.80,475.65 L399.09,474.54 L400.36,473.41 L401.62,472.27 L402.87,471.12 L404.10,469.95 L405.33,468.78 L406.54,467.59 L407.74,466.39 L408.92,465.17 L410.08,463.94 L411.22,462.70 L412.35,461.44 L413.46,460.16 L414.55,458.87 L415.62,457.57 L416.68,456.26 L417.71,454.93 L418.73,453.58 L419.73,452.23 L420.71,450.86 L421.68,449.48 L422.63,448.09 L423.55,446.68 L424.46,445.26 L425.36,443.83 L426.23,442.40 L427.09,440.94 L427.93,439.48 L428.75,438.01 L429.55,436.53 L430.34,435.04 L431.10,433.53 L431.85,432.02 L432.59,430.50 L433.30,428.97 L433.99,427.43 L434.67,425.88 L435.33,424.33 L435.97,422.76 L436.60,421.19 L437.20,419.61 L437.79,418.02 L438.36,416.43 L438.91,414.83 L439.45,413.22 L439.96,411.61 L440.46,409.98 L440.94,408.36 L441.40,406.73 L441.85,405.09 L442.28,403.44 L442.68,401.80 L443.08,400.14 L443.45,398.49 L443.80,396.82 L444.14,395.16 L444.46,393.49 L444.76,391.82 L445.04,390.14 L445.31,388.46 L445.56,386.78 L445.79,385.09 L446.00,383.40 L446.19,381.72 L446.37,380.02 L446.53,378.33 L446.67,376.64 L446.79,374.94 L446.89,373.24 L446.98,371.55 L447.05,369.85 L447.10,368.15 L447.13,366.46 L447.15,364.76 L447.14,363.06 L447.12,361.37 L447.08,359.67 L446.97,357.98 L446.84,356.29 L446.70,354.60 L446.54,352.92 L446.36,351.24 L446.17,349.56 L445.96,347.89 L445.73,346.21 L445.49,344.54 L445.23,342.88 L444.96,341.21 L444.68,339.55 L444.41,337.89 L444.13,336.22 L443.83,334.56 L443.51,332.91 L443.19,331.25 L442.85,329.60 L442.50,327.94 L442.14,326.29 L441.77,324.65 L441.38,323.00 L440.99,321.36 L440.58,319.72 L440.17,318.08 L439.75,316.44 L439.32,314.80 L438.87,313.17 L438.43,311.53 L437.97,309.90 L437.53,308.27 L437.08,306.64 L436.61,305.01 L436.14,303.39 L435.66,301.77 L435.17,300.15 L434.67,298.53 L434.16,296.93 L433.64,295.32 L433.10,293.72 L432.56,292.13 L432.00,290.54 L431.43,288.95 L430.84,287.38 L430.24,285.80 L429.63,284.24 L429.01,282.68 L428.38,281.12 L427.73,279.57 L427.07,278.03 L426.39,276.49 L425.71,274.96 L425.01,273.43 L424.30,271.91 L423.58,270.39 L422.85,268.88 L422.11,267.37 L421.35,265.87 L420.59,264.37 L419.81,262.88 L419.03,261.40 L418.23,259.92 L417.42,258.44 L416.61,256.97 L415.78,255.50 L414.94,254.04 L414.10,252.58 L413.24,251.13 L412.40,249.67 L411.56,248.20 L410.72,246.74 L409.86,245.29 L409.00,243.84 L408.12,242.39 L407.24,240.95 L406.35,239.52 L405.44,238.09 L404.53,236.66 L403.61,235.24 L402.68,233.83 L401.74,232.43 L400.79,231.03 L399.84,229.63 L398.87,228.24 L397.89,226.86 L396.91,225.49 L395.91,224.12 L394.91,222.76 L393.89,221.41 L392.87,220.06 L391.81,218.75 L390.74,217.44 L389.67,216.14 L388.58,214.84 L387.49,213.55 L386.39,212.27 L385.28,211.00 L384.16,209.73 L383.04,208.47 L381.91,207.21 L380.77,205.96 L379.62,204.72 L378.46,203.49 L377.30,202.26 L376.13,201.03 L374.96,199.82 L373.77,198.60 L372.58,197.40 L371.39,196.20 L370.18,195.01 L368.97,193.82 L367.75,192.63 L366.53,191.46 L365.30,190.29 L364.06,189.12 L362.82,187.96 L361.57,186.80 L360.31,185.65 L359.05,184.51 L357.78,183.37 L356.51,182.24 L355.23,181.12 L353.94,180.00 L352.64,178.90 L351.34,177.80 L350.02,176.72 L348.70,175.65 L347.37,174.60 L346.03,173.56 L344.68,172.53 L343.32,171.52 L341.95,170.53 L340.57,169.56 L339.18,168.61 L337.78,167.68 L336.37,166.77 L334.94,165.88 L333.50,165.02 L332.05,164.18 L330.59,163.37 L329.11,162.58 L327.62,161.82 L326.11,161.09 L324.60,160.39 L323.06,159.72 L321.51,159.08 L319.95,158.47 L318.37,157.90 L316.78,157.35 L315.17,156.85 L313.54,156.38 L311.90,155.95 L310.24,155.55 L308.56,155.20 L306.86,154.88 L305.15,154.61 L303.41,154.38 L301.66,154.19 L300.00,154.00 Z" fill="none" stroke="#0808C8" stroke-width="4.3" stroke-linejoin="round"/>
<rect x="100" y="110" width="152" height="36.5" rx="1.5" fill="#FFFFC4" stroke="#E01010" stroke-width="4"/>
<rect x="348" y="110" width="152" height="36.5" rx="1.5" fill="#FFFFC4" stroke="#0808C8" stroke-width="4"/>
<rect x="99" y="526" width="76" height="30" fill="#fff"/>
<text transform="translate(89.0,24) scale(0.95,1)" font-size="23" fill="#000">A40</text>
<text transform="translate(145.27,23.9) scale(0.9297,1)" font-size="23" fill="#000">98.9%</text>
<text transform="translate(230.38,23.9) scale(0.91,1)" font-size="23" fill="#000">1.1%</text>
<text transform="translate(380.26,24) scale(0.9351,1)" font-size="23" fill="#000">Φ: 3300 lm</text>
<text transform="translate(150.56,88) scale(1.0182,1)" font-size="23" fill="#000">120°</text>
<text transform="translate(213.95,88) scale(1.0227,1)" font-size="23" fill="#000">150°</text>
<text transform="translate(272.15,88) scale(1.0227,1)" font-size="23" fill="#000">180°</text>
<text transform="translate(336.67,88) scale(1.042,1)" font-size="23" fill="#000">150°</text>
<text transform="translate(400.84,88) scale(1.0318,1)" font-size="23" fill="#000">120°</text>
<text transform="translate(46.94,162.8) scale(1.0625,1)" font-size="23" fill="#000">90°</text>
<text transform="translate(515.96,163) scale(1.0375,1)" font-size="23" fill="#000">90°</text>
<text transform="translate(46.84,283.75) scale(1.0625,1)" font-size="23" fill="#000">60°</text>
<text transform="translate(516.08,283.75) scale(1.0156,1)" font-size="23" fill="#000">60°</text>
<text transform="translate(46.83,528) scale(1.0656,1)" font-size="23" fill="#000">30°</text>
<text transform="translate(516.08,527.9) scale(1.0156,1)" font-size="23" fill="#000">30°</text>
<text transform="translate(286.02,595) scale(0.975,1)" font-size="23" fill="#000">0°</text>
<text transform="translate(304.73,265.8) scale(0.9833,1)" font-size="23" fill="#000">100</text>
<text transform="translate(304.82,355) scale(0.9811,1)" font-size="23" fill="#000">200</text>
<text transform="translate(305.28,444) scale(0.9689,1)" font-size="23" fill="#000">300</text>
<text transform="translate(304.41,532) scale(0.9919,1)" font-size="23" fill="#000">400</text>
<text transform="translate(99.73,547) scale(0.9662,1)" font-size="22" fill="#000">cd / klm</text>
<text transform="translate(103.96,135.8) scale(0.9407,1)" font-size="23" fill="#9A1810">C0-C180: 106°</text>
<text transform="translate(351.95,136) scale(0.9473,1)" font-size="23" fill="#1A1880">C90-C270: 91°</text>

<g stroke="#000" stroke-width="1.4" fill="none" stroke-linecap="butt" stroke-linejoin="miter">
<line x1="139.45" y1="9.9" x2="139.45" y2="27.5"/>
<path d="M135.9,23.6 L139.45,28.4 L143.0,23.6"/>
<line x1="218.6" y1="11" x2="218.6" y2="28.9"/>
<path d="M214.9,14.6 L218.6,10.0 L222.3,14.6"/>
</g>
</svg>
</body></html>
